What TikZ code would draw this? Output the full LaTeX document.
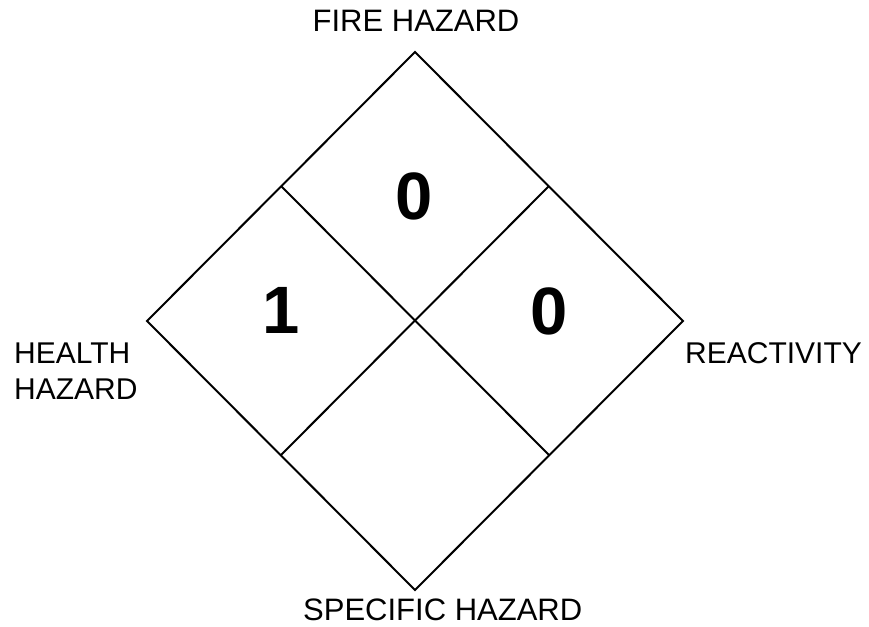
\documentclass[tikz,border=0pt]{standalone}
\usepackage{fontspec}
\setmainfont{Liberation Sans}
\begin{document}
\begin{tikzpicture}[x=1pt,y=-1pt,
  lbl/.style={inner sep=0pt,anchor=base,font=\fontsize{31}{36}\selectfont},
  sidelbl/.style={inner sep=0pt,anchor=base west,font=\fontsize{30}{36}\selectfont},
  num/.style={inner sep=0pt,anchor=base,font=\fontsize{67}{70}\selectfont\bfseries},
  edge/.style={line width=2pt,line join=miter}]
\useasboundingbox (0,0) rectangle (869,626);
\coordinate (T) at (415,52);
\coordinate (L) at (147,321);
\coordinate (R) at (683,321);
\coordinate (B) at (415,590);
\coordinate (UL) at (281,186);
\coordinate (UR) at (549,186);
\coordinate (LL) at (281,455);
\coordinate (LR) at (549,455);
\draw[edge] (T) -- (R) -- (B) -- (L) -- cycle;
\draw[edge] (UL) -- (LR);
\draw[edge] (UR) -- (LL);
\node[num] (fire) at (414,219) {0};
\node[num] (health) at (281,333) {1};
\node[num] (react) at (549,334) {0};
\node[lbl] (firel) at (416,32) {FIRE HAZARD};
\node[sidelbl] (health1) at (14,363) {HEALTH};
\node[sidelbl] (health2) at (14,399) {HAZARD};
\node[sidelbl] (reactl) at (685,363) {REACTIVITY};
\node[lbl,anchor=base west] (spec) at (303,620) {SPECIFIC HAZARD};
\end{tikzpicture}
\end{document}
